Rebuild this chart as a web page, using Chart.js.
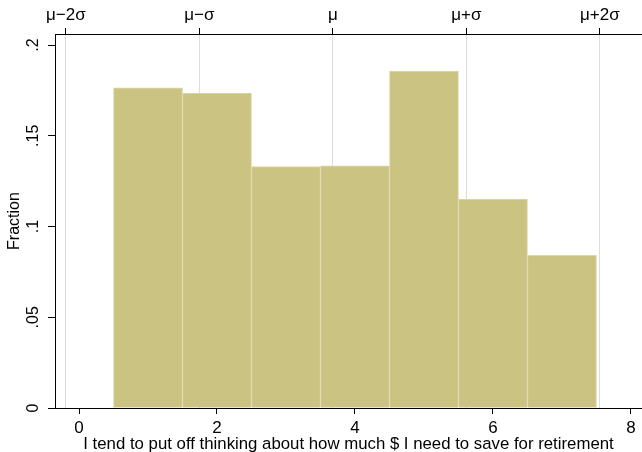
<!DOCTYPE html>
<html>
<head>
<meta charset="utf-8">
<script src="https://cdn.jsdelivr.net/npm/chart.js@4"></script>
<style>
  html, body { margin: 0; padding: 0; background: #fff; }
  #wrap { width: 642px; height: 452px; position: relative; }
</style>
</head>
<body>
<div id="wrap"><canvas id="histChart"></canvas></div>
<script>
// Histogram of responses (scale 1-7), share of respondents per answer
const answers = [1, 2, 3, 4, 5, 6, 7];
const fractions = [0.1765, 0.1735, 0.1331, 0.1334, 0.1857, 0.1151, 0.0842];

// bottom and left tick values
const xTicks = [0, 2, 4, 6, 8];
const yTicks = [0, 0.05, 0.1, 0.15, 0.2];
const yTickLabels = ["0", ".05", ".1", ".15", ".2"];

// mean and sd markers on the top axis
const mu = 3.68;
const sigma = 1.935;
const sdSteps = [-2, -1, 0, 1, 2];
const sdLabels = ["μ\u22122σ", "μ\u2212σ", "μ", "μ+σ", "μ+2σ"];

const FONT = "'Liberation Sans', Arial, Helvetica, sans-serif";
const barFill = "#cbc381";
const barEdge = "#ddd8aa";

const ctx = document.getElementById("histChart").getContext("2d");
new Chart(ctx, {
  type: "bar",
  data: {
    datasets: [
      {
        label: "Fraction",
        data: answers.map((a, i) => ({ x: a, y: fractions[i] })),
        backgroundColor: barFill,
        borderColor: barEdge,
        borderWidth: 1,
        barPercentage: 1,
        categoryPercentage: 1,
        xAxisID: "x",
        yAxisID: "y",
      },
    ],
  },
  options: {
    responsive: true,
    maintainAspectRatio: false,
    animation: false,
    layout: { padding: 0 },
    plugins: {
      legend: { display: false },
      tooltip: { enabled: false },
    },
    scales: {
      x: {
        type: "linear",
        position: "bottom",
        offset: false,
        min: -0.348,
        max: 8.16,
        afterBuildTicks: (s) => { s.ticks = xTicks.map((v) => ({ value: v })); },
        afterFit: (s) => { s.height = 44; },
        grid: { offset: false, drawOnChartArea: false, tickColor: "#000", tickLength: 6 },
        border: { color: "#000", width: 1 },
        ticks: { color: "#000", padding: 4, font: { family: FONT, size: 17 }, maxRotation: 0 },
        title: {
          display: true,
          text: "I tend to put off thinking about how much $ I need to save for retirement",
          color: "#000",
          font: { family: FONT, size: 16.8 },
          padding: { top: 0, bottom: -2 },
        },
      },
      x2: {
        type: "linear",
        position: "top",
        offset: false,
        min: -0.348,
        max: 8.16,
        afterBuildTicks: (s) => { s.ticks = sdSteps.map((k) => ({ value: mu + k * sigma })); },
        afterFit: (s) => { s.height = 34; },
        grid: { offset: false, color: "#dcdcdc", tickColor: "#000", tickLength: 6, lineWidth: 1 },
        border: { color: "#000", width: 1 },
        ticks: {
          color: "#000",
          padding: 2,
          maxRotation: 0,
          font: { family: FONT, size: 17 },
          callback: (v, i) => sdLabels[i],
        },
      },
      y: {
        type: "linear",
        position: "left",
        min: 0,
        max: 0.2061,
        afterBuildTicks: (s) => { s.ticks = yTicks.map((v) => ({ value: v })); },
        afterFit: (s) => { s.width = 55; },
        grid: { drawOnChartArea: false, tickColor: "#000", tickLength: 7 },
        border: { color: "#000", width: 1 },
        ticks: {
          color: "#000",
          padding: 3,
          minRotation: 90,
          maxRotation: 90,
          crossAlign: "center",
          font: { family: FONT, size: 16 },
          callback: (v, i) => yTickLabels[i],
        },
        title: {
          display: true,
          text: "Fraction",
          color: "#000",
          font: { family: FONT, size: 16 },
          padding: { top: 5, bottom: 0 },
        },
      },
    },
  },
});
</script>
</body>
</html>
